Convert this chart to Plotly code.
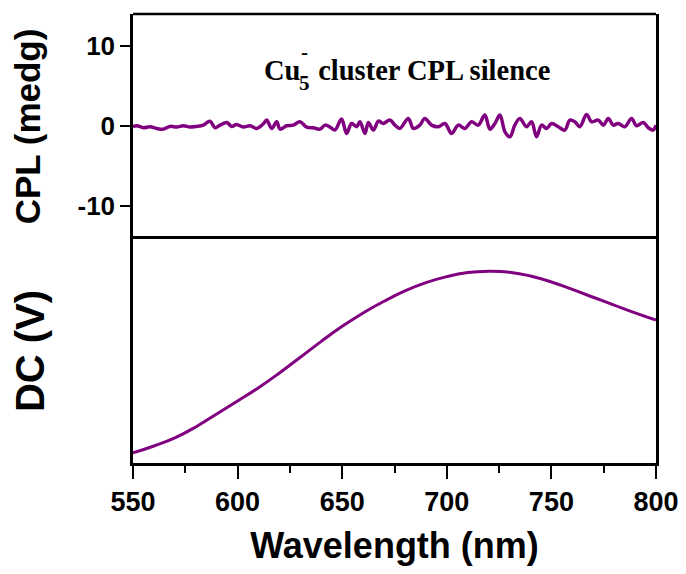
import plotly.graph_objects as go
from plotly.subplots import make_subplots

# CPL signal (mdeg) vs wavelength (nm)
cpl_wl = [550.0, 551.8, 555.0, 558.1, 561.3, 564.5, 567.7, 570.9, 574.1, 577.2, 580.4, 583.6,
          586.8, 589.2, 591.6, 594.8, 597.2, 599.5, 602.7, 605.9, 609.1, 612.3, 613.9, 616.3,
          618.7, 620.3, 623.4, 626.6, 629.8, 633.0, 636.2, 639.4, 641.8, 644.2, 646.5, 649.7,
          652.1, 654.5, 656.9, 658.5, 660.9, 662.5, 664.9, 667.3, 669.6, 672.8, 675.2, 677.6,
          681.6, 684.0, 687.1, 689.5, 692.7, 695.9, 699.1, 702.3, 705.5, 708.7, 711.8, 715.0,
          718.2, 720.6, 723.0, 725.4, 727.8, 730.2, 732.5, 734.9, 738.1, 740.5, 742.9, 745.3,
          747.7, 750.1, 753.3, 756.4, 758.8, 761.2, 763.6, 766.8, 769.2, 772.4, 774.8, 777.2,
          779.5, 781.9, 785.1, 788.3, 790.7, 793.9, 796.3, 798.6, 800.0]
cpl_val = [-0.08, 0.04, -0.21, -0.08, -0.29, -0.38, -0.04, -0.12, 0.04, -0.12, -0.04, 0.12,
           0.62, -0.21, 0.12, 0.46, -0.04, 0.21, -0.12, 0.04, -0.29, 0.29, 0.75, -0.29,
           0.54, -0.38, 0.04, 0.12, 0.54, -0.12, -0.21, -0.38, 0.12, -0.12, -0.50, 0.88,
           -0.92, 0.33, -0.08, 0.54, -0.92, 0.46, -0.50, 0.62, 0.33, 0.75, 0.12, -0.29,
           0.96, -0.29, 0.12, 0.96, 0.12, -0.08, 0.33, -0.92, 0.12, -0.29, 0.54, 0.12,
           1.38, -0.38, 0.33, 1.38, -0.71, -1.33, 0.12, 0.96, -0.08, 0.54, -1.33, 0.12,
           -0.29, 0.33, -0.08, -0.50, 0.75, 0.54, -0.08, 1.46, 0.54, 0.75, 0.12, 0.96,
           0.12, 0.33, -0.08, 0.96, 0.04, 0.46, -0.21, -0.50, 0.12]

# DC signal (arbitrary units) vs wavelength (nm)
dc_wl = [550, 560, 570, 580, 590, 600, 610, 620, 630, 640, 650, 660, 670,
         680, 690, 700, 710, 720, 730, 740, 750, 760, 770, 780, 790, 800]
dc_val = [0.045, 0.076, 0.112, 0.161, 0.219, 0.277, 0.336, 0.402, 0.472, 0.543, 0.610,
          0.670, 0.722, 0.768, 0.805, 0.832, 0.850, 0.856, 0.852, 0.835, 0.808, 0.775,
          0.740, 0.705, 0.670, 0.638]

cpl_ticks = [-10, 0, 10]
cpl_ticktext = ["-10", "0", "10"]
x_ticks = [550, 600, 650, 700, 750, 800]

purple = "#800080"
sans = "Liberation Sans, Arial, sans-serif"
serif = "Liberation Serif, Times New Roman, serif"

# page body has an 8px margin; compensate so the plot lands where the reference is
W, H = 670, 558
ML, MR, MT, MB = 125, 22, 6, 103
plot_w = W - ML - MR
plot_h = H - MT - MB

fig = make_subplots(rows=2, cols=1, shared_xaxes=True, vertical_spacing=0)

fig.add_trace(go.Scatter(x=cpl_wl, y=cpl_val, mode="lines",
                         line=dict(color=purple, width=3.5, shape="spline", smoothing=1.0),
                         showlegend=False), row=1, col=1)
fig.add_trace(go.Scatter(x=dc_wl, y=dc_val, mode="lines",
                         line=dict(color=purple, width=3, shape="spline", smoothing=1.3),
                         showlegend=False), row=2, col=1)

split = 224 / plot_h

axis_common = dict(showline=True, linecolor="black", linewidth=2.5, mirror=True,
                   showgrid=False, zeroline=False, automargin=False)

fig.update_layout(
    width=W, height=H,
    margin=dict(l=ML, r=MR, t=MT, b=MB),
    paper_bgcolor="white", plot_bgcolor="white",
    xaxis=dict(showline=False, showgrid=False, zeroline=False, automargin=False,
               range=[550, 800], showticklabels=False, ticks=""),
    xaxis2=dict(**axis_common, range=[550, 800], tickvals=x_ticks, ticks="outside",
                ticklen=13, tickwidth=2, tickcolor="black", ticklabeloverflow="allow",
                minor=dict(dtick=25, ticks="outside", ticklen=7, tickwidth=2, tickcolor="black"),
                tickfont=dict(family=sans, size=27, color="black", weight="bold"),
                title=dict(text="Wavelength (nm)", standoff=22,
                           font=dict(family=sans, size=36, color="black", weight="bold"))),
    yaxis=dict(**axis_common, domain=[split, 1], range=[-14.1, 14], tickvals=cpl_ticks,
               ticktext=cpl_ticktext,
               ticks="outside", ticklen=10, tickwidth=2, tickcolor="black",
               tickfont=dict(family=sans, size=26, color="black", weight="bold"),
               title=dict(text="CPL (medg)", standoff=29,
                          font=dict(family=sans, size=35, color="black", weight="bold"))),
    yaxis2=dict(**axis_common, domain=[0, split], range=[0, 1], showticklabels=False, ticks="",
                title=dict(text="DC (V)", standoff=86,
                           font=dict(family=sans, size=40, color="black", weight="bold"))),
)

# top border of the upper panel
fig.add_shape(type="line", xref="paper", yref="paper", x0=0, x1=1, y0=1, y1=1,
              line=dict(color="black", width=2.5))

# "Cu5- cluster CPL silence" with stacked sub/superscript (positions in reference pixels)
def px_to_paper(px):
    return (px - 133) / plot_w

ann_y = 6.9
tfont = dict(family=serif, size=28.5, color="black", weight="bold")
sfont = dict(family=serif, size=21, color="black", weight="bold")
fig.add_annotation(x=px_to_paper(263), xref="paper", y=ann_y, yref="y", xanchor="left",
                   showarrow=False, text="Cu", font=tfont, borderpad=0)
fig.add_annotation(x=px_to_paper(304), xref="paper", y=ann_y, yref="y", xanchor="center",
                   yshift=19, showarrow=False, text="-", font=sfont, borderpad=0)
fig.add_annotation(x=px_to_paper(304), xref="paper", y=ann_y, yref="y", xanchor="center",
                   yshift=-12, showarrow=False, text="5", font=sfont, borderpad=0)
fig.add_annotation(x=px_to_paper(310), xref="paper", y=ann_y, yref="y", xanchor="left",
                   showarrow=False, text=" cluster CPL silence", font=tfont, borderpad=0)

fig.write_html("out.html")
